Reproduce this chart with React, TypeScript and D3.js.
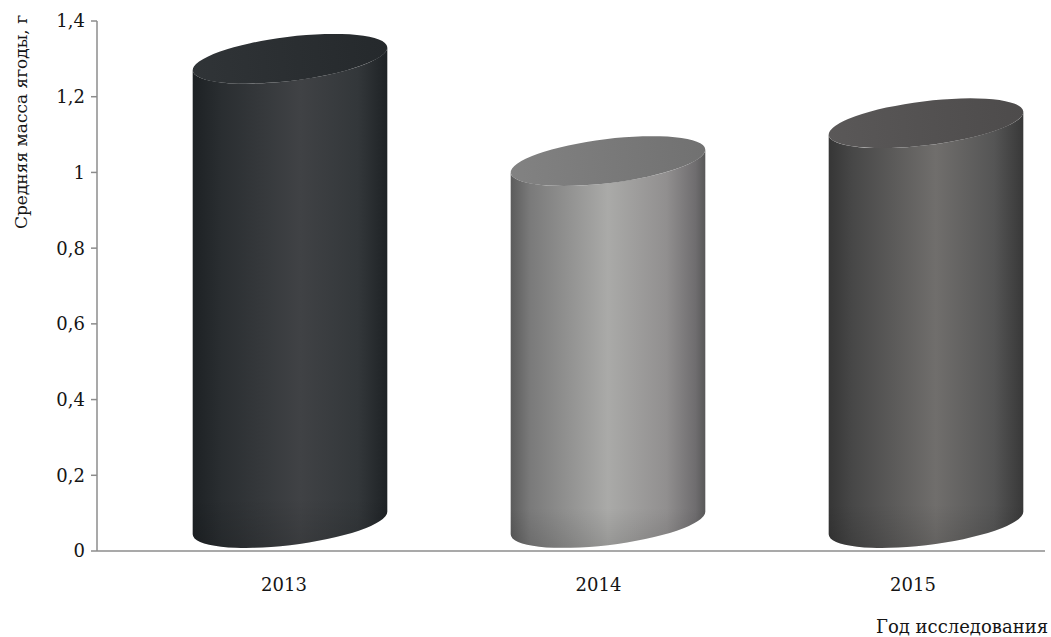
import React from "react";
import * as d3 from "d3";

const years = ["2013", "2014", "2015"];
const values = [1.3, 1.03, 1.13];
const yTicks = [0, 0.2, 0.4, 0.6, 0.8, 1, 1.2, 1.4];
const bodyStops = [
  [[0, "#1d2124"], [0.15, "#2a2e31"], [0.55, "#404245"], [0.85, "#33373a"], [1, "#1e2225"]],
  [[0, "#5c5c5c"], [0.1, "#7a7a7a"], [0.5, "#aaaaa8"], [0.8, "#918f8f"], [0.95, "#6f6d6f"], [1, "#585858"]],
  [[0, "#363636"], [0.12, "#474747"], [0.55, "#706e6c"], [0.85, "#555555"], [1, "#383838"]],
];
const topStops = [
  [[0, "#303437"], [1, "#25292c"]],
  [[0, "#828282"], [1, "#717171"]],
  [[0, "#5a5858"], [1, "#4d4b4b"]],
];

const W = 1051;
const H = 637;
const FONT = "'DejaVu Serif', 'Liberation Serif', serif";

export default function App() {
  const y = d3.scaleLinear().domain([0, 1.4]).range([551, 21]);
  const xLabel = d3.scalePoint().domain(years).range([284, 913]);
  const xCyl = d3.scalePoint().domain(years).range([290, 926]);

  const a = 98;
  const b = 22;
  const rotDeg = -7;
  const th = (rotDeg * Math.PI) / 180;
  const t0 = Math.atan2(-b * Math.sin(th), a * Math.cos(th));
  const px = (t: number) => a * Math.cos(t) * Math.cos(th) - b * Math.sin(t) * Math.sin(th);
  const py = (t: number) => a * Math.cos(t) * Math.sin(th) + b * Math.sin(t) * Math.cos(th);
  let rx = px(t0), ry = py(t0);
  if (rx < 0) { rx = -rx; ry = -ry; }
  const baseOffset = 28;

  return (
    <svg width={W} height={H} style={{ position: "absolute", left: 0, top: 0, background: "#fff" }}>
      <defs>
        {bodyStops.map((stops, i) => (
          <linearGradient key={"b" + i} id={"body" + i} x1="0" x2="1" y1="0" y2="0">
            {stops.map((s, j) => (
              <stop key={j} offset={s[0] as number} stopColor={s[1] as string} />
            ))}
          </linearGradient>
        ))}
        {topStops.map((stops, i) => (
          <linearGradient key={"t" + i} id={"top" + i} x1="0" x2="1" y1="0" y2="0">
            {stops.map((s, j) => (
              <stop key={j} offset={s[0] as number} stopColor={s[1] as string} />
            ))}
          </linearGradient>
        ))}
        <linearGradient id="shadeV" x1="0" x2="0" y1="0" y2="1">
          <stop offset="0" stopColor="#000" stopOpacity="0" />
          <stop offset="0.9" stopColor="#000" stopOpacity="0" />
          <stop offset="1" stopColor="#000" stopOpacity="0.12" />
        </linearGradient>
      </defs>

      <line x1={97} x2={97} y1={y(1.4)} y2={y(0)} stroke="#8c8c8c" strokeWidth={1.5} />
      <line x1={97} x2={1045} y1={y(0)} y2={y(0)} stroke="#8c8c8c" strokeWidth={1.5} />
      {yTicks.map((t) => (
        <g key={t}>
          <line x1={91} x2={97} y1={y(t)} y2={y(t)} stroke="#8c8c8c" strokeWidth={1.5} />
          <text x={85} y={y(t)} dy="0.36em" textAnchor="end" fontFamily={FONT} fontSize={18} fill="#151515">
            {String(t).replace(".", ",")}
          </text>
        </g>
      ))}

      {years.map((yr, i) => {
        const cx = xCyl(yr) as number;
        const cyTop = y(values[i]);
        const cyBot = y(0) - baseOffset;
        const body =
          `M${cx - rx},${cyTop - ry} L${cx - rx},${cyBot - ry} ` +
          `A${a},${b} ${rotDeg} 0 0 ${cx + rx},${cyBot + ry} ` +
          `L${cx + rx},${cyTop + ry} ` +
          `A${a},${b} ${rotDeg} 0 1 ${cx - rx},${cyTop - ry} Z`;
        return (
          <g key={yr}>
            <path d={body} fill={`url(#body${i})`} />
            <path d={body} fill="url(#shadeV)" />
            <ellipse
              cx={cx}
              cy={cyTop}
              rx={a}
              ry={b}
              transform={`rotate(${rotDeg},${cx},${cyTop})`}
              fill={`url(#top${i})`}
            />
          </g>
        );
      })}

      {years.map((yr) => (
        <text key={yr} x={xLabel(yr) as number} y={591} textAnchor="middle" fontFamily={FONT} fontSize={18} fill="#151515">
          {yr}
        </text>
      ))}

      <text x={1048} y={633} textAnchor="end" fontFamily={FONT} fontSize={18} fill="#151515">
        Год исследования
      </text>
      <text
        transform="translate(27,122) rotate(-90)"
        textAnchor="middle"
        fontFamily={FONT}
        fontSize={17}
        fill="#151515"
      >
        Средняя масса ягоды, г
      </text>
    </svg>
  );
}
